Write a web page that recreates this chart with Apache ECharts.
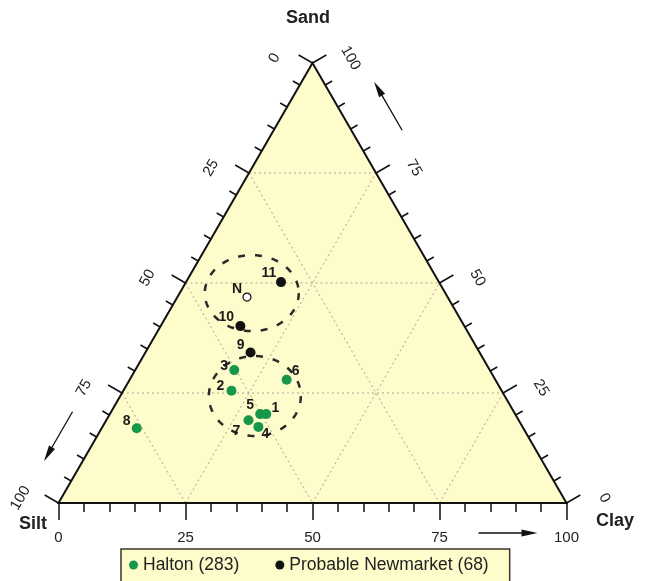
<!DOCTYPE html>
<html><head><meta charset="utf-8">
<script src="https://cdn.jsdelivr.net/npm/echarts@6/dist/echarts.min.js"></script>
<style>html,body{margin:0;padding:0;background:#fff}#chart{width:652px;height:581px}</style>
</head><body><div id="chart"></div>
<script>
// ---------- data (percent Sand / Silt / Clay) ----------
const haltonIds  = ['1', '2', '3', '4', '5', '6', '7', '8'];
const haltonSand = [20.2, 25.5, 30.2, 17.3, 20.2, 28.0, 18.8, 17.0];
const haltonSilt = [49.0, 53.2, 50.3, 52.0, 50.2, 41.1, 53.2, 76.1];
const haltonClay = [30.8, 21.3, 19.5, 30.7, 29.6, 30.9, 28.0, 6.9];

const newmarketIds  = ['9', '10', '11'];
const newmarketSand = [34.2, 40.2, 50.2];
const newmarketSilt = [45.1, 44.1, 31.1];
const newmarketClay = [20.7, 15.7, 18.7];

const refIds  = ['N'];
const refSand = [46.8];
const refSilt = [39.5];
const refClay = [13.7];

// group outlines (centre as Sand / Silt / Clay)
const outlineSand = [47.7, 24.3];
const outlineSilt = [38.1, 49.2];
const outlineClay = [14.2, 26.5];

const tickValues  = [0, 5, 10, 15, 20, 25, 30, 35, 40, 45, 50, 55, 60, 65, 70, 75, 80, 85, 90, 95, 100];
const tickLabels  = [0, 25, 50, 75, 100];
const axisTitles  = ['Sand', 'Silt', 'Clay'];
const legendNames = ['Halton (283)', 'Probable Newmarket (68)'];

// ---------- styling (not data) ----------
const FONT = '"Liberation Sans", Arial, Helvetica, sans-serif';
const FILL = '#fefccb';
const GREEN = '#16974a';
const haltonLabelOffsets    = [[9,-6],[-11,-5],[-10,-4],[7,7],[-10,-9],[9,-9],[-12,11],[-10,-7]];
const newmarketLabelOffsets = [[-10,-7],[-14,-9],[-12,-9]];
const refLabelOffsets       = [[-10,-8]];
const outlineRx = [47, 46];
const outlineRy = [38, 40];

// ternary -> cartesian (x along Clay base, y = Sand height)
function toXY(sand, silt, clay) {
  const t = sand + silt + clay;
  const s = sand / t * 100, c = clay / t * 100;
  return [c + s / 2, s];
}

const COS30 = Math.cos(Math.PI / 6);

function frameRender(params, api) {
  const P = (s, c) => api.coord([c + s / 2, s]);
  const A = P(100, 0), B = P(0, 0), C = P(0, 100);
  const kids = [];
  kids.push({ type: 'polygon', shape: { points: [A, B, C] }, style: { fill: FILL } });
  // dotted grid lines
  const gs = { stroke: '#a5a594', lineWidth: 1, lineDash: [2, 3], fill: null };
  [25, 50, 75].forEach(v => {
    const p1 = P(v, 0), p2 = P(v, 100 - v);             // const sand
    kids.push({ type: 'line', shape: { x1: p1[0], y1: p1[1], x2: p2[0], y2: p2[1] }, style: gs });
    const q1 = P(0, v), q2 = P(100 - v, v);             // const clay
    kids.push({ type: 'line', shape: { x1: q1[0], y1: q1[1], x2: q2[0], y2: q2[1] }, style: gs });
    const r1 = P(100 - v, 0), r2 = P(0, 100 - v);       // const silt
    kids.push({ type: 'line', shape: { x1: r1[0], y1: r1[1], x2: r2[0], y2: r2[1] }, style: gs });
  });
  // edges
  kids.push({ type: 'polygon', shape: { points: [A, B, C] }, style: { fill: null, stroke: '#111', lineWidth: 2 } });
  // ticks on left (silt) and right (sand) edges
  const nL = [-COS30, -0.5], nR = [COS30, -0.5];
  const ts = { stroke: '#111', lineWidth: 1.5 };
  tickValues.forEach(v => {
    const len = v % 25 === 0 ? 16 : 8;
    const pl = P(100 - v, 0);        // silt = v on left edge
    kids.push({ type: 'line', shape: { x1: pl[0], y1: pl[1], x2: pl[0] + nL[0] * len, y2: pl[1] + nL[1] * len }, style: ts });
    const pr = P(v, 100 - v);        // sand = v on right edge
    kids.push({ type: 'line', shape: { x1: pr[0], y1: pr[1], x2: pr[0] + nR[0] * len, y2: pr[1] + nR[1] * len }, style: ts });
  });
  const lblStyle = (t) => ({ text: String(t), align: 'center', verticalAlign: 'middle', fill: '#222', font: '15px ' + FONT });
  tickLabels.forEach(v => {
    const pl = P(100 - v, 0);
    kids.push({ type: 'text', x: pl[0] - 38, y: pl[1] - 5, rotation: Math.PI / 3, style: lblStyle(v) });
    const pr = P(v, 100 - v);
    kids.push({ type: 'text', x: pr[0] + 38, y: pr[1] - 5, rotation: -Math.PI / 3, style: lblStyle(v) });
  });
  // titles
  const tStyle = (t) => ({ text: t, align: 'center', verticalAlign: 'middle', fill: '#222', font: 'bold 18px ' + FONT });
  kids.push({ type: 'text', x: A[0] - 4.5, y: A[1] - 45, style: tStyle(axisTitles[0]) });
  kids.push({ type: 'text', x: B[0] - 25.5, y: B[1] + 21, style: tStyle(axisTitles[1]) });
  kids.push({ type: 'text', x: C[0] + 48.5, y: C[1] + 18, style: tStyle(axisTitles[2]) });
  // arrows
  function arrow(p0, p1) {
    const dx = p1[0] - p0[0], dy = p1[1] - p0[1];
    const L = Math.hypot(dx, dy), ux = dx / L, uy = dy / L;
    const hl = 16, hw = 3.5;
    const bx = p1[0] - ux * hl, by = p1[1] - uy * hl;
    kids.push({ type: 'line', shape: { x1: p0[0], y1: p0[1], x2: bx + ux * 2, y2: by + uy * 2 }, style: { stroke: '#111', lineWidth: 1.3 } });
    kids.push({ type: 'polygon', shape: { points: [p1, [bx - uy * hw, by + ux * hw], [bx + uy * hw, by - ux * hw]] }, style: { fill: '#111' } });
  }
  const eL = [(A[0] - B[0]) / 508, (A[1] - B[1]) / 508];
  const eR = [(C[0] - A[0]) / 508, (C[1] - A[1]) / 508];
  const k = (B2, e, along, n, off) => [B2[0] + e[0] * along + n[0] * off, B2[1] + e[1] * along + n[1] * off];
  arrow(k(B, eL, 86, nL, 33.5), k(B, eL, 29, nL, 33.5));
  arrow(k(A, eR, 103, nR, 44), k(A, eR, 47, nR, 44));
  arrow([B[0] + 420, B[1] + 30], [B[0] + 479, B[1] + 30]);
  return { type: 'group', children: kids };
}

function outlineRender(params, api) {
  const c = api.coord([api.value(0), api.value(1)]);
  const i = params.dataIndex;
  const pts = [];
  for (let a = 0; a <= 360; a += 4) {
    const r = a * Math.PI / 180;
    pts.push([c[0] + outlineRx[i] * Math.cos(r), c[1] + outlineRy[i] * Math.sin(r)]);
  }
  return { type: 'polyline', shape: { points: pts }, style: { stroke: '#2a2a2a', lineWidth: 2.5, lineDash: [7, 10], fill: null } };
}

const labelBase = { show: true, formatter: '{b}', position: 'inside', fontSize: 14, fontWeight: 'bold', color: '#1a1a1a', fontFamily: FONT, textBorderWidth: 0 };

function items(ids, sand, silt, clay, offs) {
  return ids.map((id, i) => ({ name: id, value: toXY(sand[i], silt[i], clay[i]), label: { offset: offs[i] } }));
}

const chart = echarts.init(document.getElementById('chart'), null, { renderer: 'canvas' });
chart.setOption({
  animation: false,
  backgroundColor: '#ffffff',
  grid: { left: 58.5, top: 63, width: 508, height: 440 },
  xAxis: {
    type: 'value', min: 0, max: 100, interval: 25,
    axisLine: { show: true, lineStyle: { color: '#111', width: 2 } },
    axisTick: { show: true, length: 17, lineStyle: { color: '#111', width: 1.5 } },
    minorTick: { show: true, splitNumber: 5, length: 9, lineStyle: { color: '#111', width: 1.5 } },
    axisLabel: { fontSize: 15, color: '#222', margin: 27, fontFamily: FONT },
    splitLine: { show: false }
  },
  yAxis: { type: 'value', min: 0, max: 100, show: false },
  legend: {
    left: 121, top: 549, orient: 'horizontal', data: legendNames,
    icon: 'circle', itemWidth: 9, itemHeight: 9, itemGap: 36,
    backgroundColor: FILL, borderColor: '#3a3628', borderWidth: 1.5,
    padding: [6, 21, 30, 8],
    textStyle: { fontSize: 17.5, color: '#222', fontFamily: FONT, lineHeight: 20 }
  },
  series: [
    { type: 'custom', name: 'frame', coordinateSystem: 'cartesian2d', data: [[0, 0]], renderItem: frameRender, clip: false, silent: true, z: 1 },
    { type: 'custom', name: 'outlines', coordinateSystem: 'cartesian2d',
      data: outlineSand.map((s, i) => toXY(s, outlineSilt[i], outlineClay[i])), renderItem: outlineRender, clip: false, silent: true, z: 2 },
    { type: 'scatter', name: legendNames[0], symbol: 'circle', symbolSize: 10, itemStyle: { color: GREEN, opacity: 1 },
      data: items(haltonIds, haltonSand, haltonSilt, haltonClay, haltonLabelOffsets), label: labelBase, z: 3 },
    { type: 'scatter', name: legendNames[1], symbol: 'circle', symbolSize: 10, itemStyle: { color: '#111', opacity: 1 },
      data: items(newmarketIds, newmarketSand, newmarketSilt, newmarketClay, newmarketLabelOffsets), label: labelBase, z: 3 },
    { type: 'scatter', name: 'N', symbol: 'circle', symbolSize: 8, itemStyle: { color: '#fff', borderColor: '#111', borderWidth: 1.2, opacity: 1 },
      data: items(refIds, refSand, refSilt, refClay, refLabelOffsets), label: labelBase, z: 3 }
  ]
});
</script></body></html>
